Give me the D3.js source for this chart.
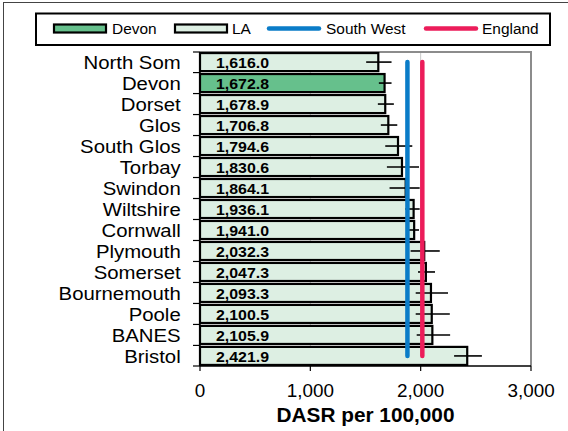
<!DOCTYPE html>
<html><head><meta charset="utf-8">
<script src="https://cdn.jsdelivr.net/npm/d3@7"></script>
<style>body{margin:0;background:#fff}svg{display:block;font-family:"Liberation Sans",Arial,sans-serif}</style>
</head><body><svg id="c" width="568" height="431"></svg>
<script>
const categories = ["North Som","Devon","Dorset","Glos","South Glos","Torbay","Swindon","Wiltshire","Cornwall","Plymouth","Somerset","Bournemouth","Poole","BANES","Bristol"];
const values = [1616.0,1672.8,1678.9,1706.8,1794.6,1830.6,1864.1,1936.1,1941.0,2032.3,2047.3,2093.3,2100.5,2105.9,2421.9];
const lowerCI = [1506,1621,1612,1639,1679,1694,1718,1860,1890,1909,1976,1955,1955,1964,2303];
const upperCI = [1736,1736,1757,1788,1924,1985,1991,1991,1985,2173,2130,2248,2264,2267,2555];
const highlight = "Devon";
const southWest = 1880;
const england = 2015;
const xTicks = [0,1000,2000,3000];
const legendItems = [
  {label:"Devon", type:"bar", color:"#66c08c"},
  {label:"LA", type:"bar", color:"#ddefe3"},
  {label:"South West", type:"line", color:"#0a7cc8"},
  {label:"England", type:"line", color:"#ec1c5a"}
];

const svg = d3.select("#c");
const L=200, R=531, T=52, B=366;
const x = d3.scaleLinear().domain([0,3000]).range([L,R]);
const y = d3.scaleBand().domain(categories).range([T,B]).paddingInner(0.14).paddingOuter(0.05);
const fmt = d3.format(",.1f");
const rows = categories.map((c,i)=>({c, v:values[i], lo:lowerCI[i], hi:upperCI[i]}));

// outer frame
svg.append("rect").attr("x",3.5).attr("y",2.5).attr("width",570).attr("height",440)
  .attr("fill","none").attr("stroke","#444").attr("stroke-width",1);

// gridlines
svg.append("g").selectAll("line").data(xTicks.filter(t=>t>0 && t<3000)).join("line")
  .attr("x1",d=>x(d)).attr("x2",d=>x(d)).attr("y1",T).attr("y2",B)
  .attr("stroke","#c8c8c8").attr("stroke-width",1);
// plot frame top & right
svg.append("path").attr("d",`M${L},${T}H${R}V${B}`).attr("fill","none")
  .attr("stroke","#8c8c8c").attr("stroke-width",2);

// bars
svg.append("g").selectAll("rect").data(rows).join("rect")
  .attr("x",x(0)).attr("y",d=>y(d.c)).attr("width",d=>x(d.v)-x(0)).attr("height",y.bandwidth())
  .attr("fill",d=>d.c===highlight?legendItems[0].color:legendItems[1].color)
  .attr("stroke","#000").attr("stroke-width",2.2);

// value labels
svg.append("g").selectAll("text").data(rows).join("text")
  .attr("transform",d=>`translate(216,${y(d.c)+y.bandwidth()/2+5.6}) scale(1.06,1)`)
  .attr("font-size",15).attr("font-weight","bold").attr("fill","#000")
  .text(d=>fmt(d.v));

// error bars
svg.append("g").selectAll("line").data(rows).join("line")
  .attr("x1",d=>x(d.lo)).attr("x2",d=>x(d.hi))
  .attr("y1",d=>y(d.c)+y.bandwidth()/2).attr("y2",d=>y(d.c)+y.bandwidth()/2)
  .attr("stroke","#000").attr("stroke-width",1.6);

// reference lines
const yTop = y(categories[0])+y.bandwidth()/2, yBot = y(categories[categories.length-1])+y.bandwidth()/2;
[[southWest,legendItems[2].color],[england,legendItems[3].color]].forEach(([v,col])=>{
  svg.append("line").attr("x1",x(v)).attr("x2",x(v)).attr("y1",yTop).attr("y2",yBot)
    .attr("stroke",col).attr("stroke-width",4.5).attr("stroke-linecap","round");
});

// y axis
const step = y.step(), gap = y.paddingInner()*step/2;
const yTickPos = categories.map(c=>y(c)-gap).concat([B]);
yTickPos[0]=T;
const ya = svg.append("g");
ya.append("line").attr("x1",L).attr("x2",L).attr("y1",T).attr("y2",B).attr("stroke","#000").attr("stroke-width",1.5);
ya.selectAll("line.t").data(yTickPos).join("line").attr("class","t")
  .attr("x1",193).attr("x2",L).attr("y1",d=>d).attr("y2",d=>d).attr("stroke","#000").attr("stroke-width",1.2);
ya.selectAll("text").data(categories).join("text")
  .attr("transform",d=>`translate(180.7,${y(d)+y.bandwidth()/2+6.6}) scale(1.1,1)`)
  .attr("text-anchor","end").attr("font-size",18.5).attr("fill","#000").text(d=>d);

// x axis
const xa = svg.append("g");
xa.append("line").attr("x1",L).attr("x2",R).attr("y1",B).attr("y2",B).attr("stroke","#000").attr("stroke-width",1.5);
xa.selectAll("line.t").data(xTicks).join("line").attr("class","t")
  .attr("x1",d=>x(d)).attr("x2",d=>x(d)).attr("y1",B).attr("y2",B+5).attr("stroke","#000").attr("stroke-width",1.2);
xa.selectAll("text").data(xTicks).join("text")
  .attr("transform",d=>`translate(${x(d)},397) scale(1.05,1)`)
  .attr("text-anchor","middle").attr("font-size",18).attr("fill","#000").text(d=>d3.format(",")(d));
svg.append("text").attr("transform",`translate(${(L+R)/2},421.5) scale(1.04,1)`)
  .attr("text-anchor","middle").attr("font-size",20).attr("font-weight","bold").text("DASR per 100,000");

// legend
const lg = svg.append("g");
lg.append("rect").attr("x",36).attr("y",13.5).attr("width",514).attr("height",31.5)
  .attr("fill","#fff").attr("stroke","#000").attr("stroke-width",2);
const lx = [54,175,267,424];
const tx = [112,232,326,482];
legendItems.forEach((it,i)=>{
  if(it.type==="bar"){
    lg.append("rect").attr("x",lx[i]).attr("y",24.5).attr("width",52).attr("height",8)
      .attr("fill",it.color).attr("stroke","#000").attr("stroke-width",2.2);
  } else {
    lg.append("line").attr("x1",lx[i]+2).attr("x2",lx[i]+52).attr("y1",28.5).attr("y2",28.5)
      .attr("stroke",it.color).attr("stroke-width",4.5).attr("stroke-linecap","round");
  }
  lg.append("text").attr("transform",`translate(${tx[i]},34) scale(1.03,1)`)
    .attr("font-size",15).attr("fill","#000").text(it.label);
});
</script></body></html>
